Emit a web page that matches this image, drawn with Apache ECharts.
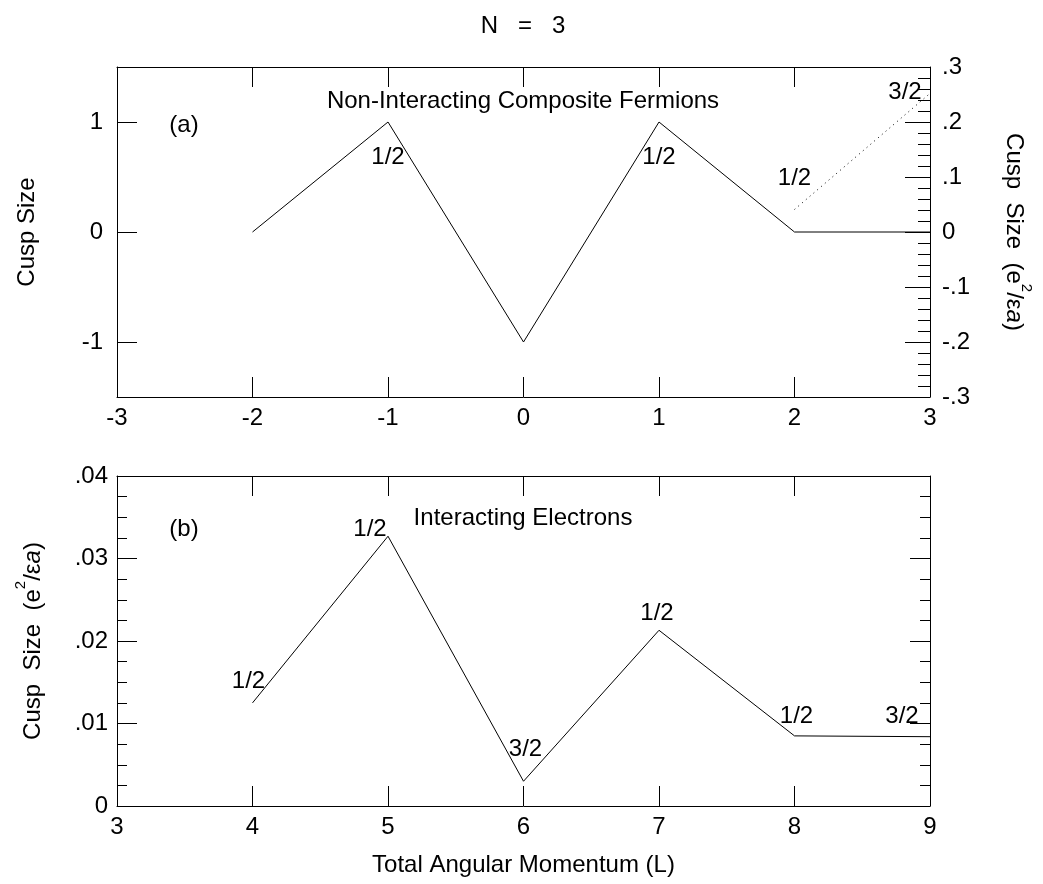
<!DOCTYPE html>
<html><head><meta charset="utf-8">
<script src="https://cdn.jsdelivr.net/npm/echarts@6/dist/echarts.min.js"></script>
<style>html,body{margin:0;padding:0;background:#fff}#c{width:1043px;height:884px}</style>
</head><body><div id="c"></div>
<script>
// ---- data ----
const topL = [-2, -1, 0, 1, 2, 3];
const topCusp = [0, 1, -1, 1, 0, 0];
const topSpin = ['', '1/2', '', '1/2', '', ''];
const topDotL = [2, 3];
const topDotEnergy = [0.041, 0.252];
const topDotSpin = ['1/2', '3/2'];
const botL = [4, 5, 6, 7, 8, 9];
const botCusp = [0.0125, 0.0327, 0.003, 0.0213, 0.0085, 0.0084];
const botSpin = ['1/2', '1/2', '3/2', '1/2', '1/2', '3/2'];
const topLeftTicks = [-1, 0, 1];

// ---- styles ----
const FF = '"Liberation Sans", Arial, Helvetica, sans-serif';
const FS = 24;
const BLACK = '#000';
const topSpinOffsets = [[0,0],[0,35],[0,0],[0,35],[0,0],[0,0]];
const topDotOffsets = [[0,-31],[-25,-1]];
const botSpinOffsets = [[-4,-22],[-18,-7],[2,-32],[-2,-17],[2,-20],[-28,-20]];

function fmt(v) {
  const r = Math.round(v * 10000) / 10000;
  if (r === 0) return '0';
  return String(r).replace(/^(-?)0\./, '$1.');
}
function labelData(xs, ys, texts, offs) {
  return xs.map((x, i) => ({
    value: [x, ys[i]],
    label: { show: texts[i] !== '', formatter: texts[i], offset: offs[i] }
  }));
}
const axLine = { show: true, onZero: false, lineStyle: { color: BLACK, width: 1 } };
const lab = (show, extra) => Object.assign({ show, color: BLACK, fontSize: FS, fontFamily: FF }, extra || {});

const richName = {
  n: { fontSize: FS, fontFamily: FF, color: BLACK, lineHeight: 32, verticalAlign: 'bottom' },
  s: { fontSize: 15, fontFamily: FF, color: BLACK, verticalAlign: 'top', lineHeight: 15 },
  i: { fontSize: FS, fontFamily: FF, color: BLACK, fontStyle: 'italic', lineHeight: 32, verticalAlign: 'bottom' }
};
const unitName = '{n|Cusp  Size  (e}{s|2}{n|/ε}{i|a}{n|)}';
const spinLabel = { position: 'inside', color: BLACK, fontSize: FS, fontFamily: FF, textBorderWidth: 0, opacity: 1 };

const chart = echarts.init(document.getElementById('c'), null, { renderer: 'canvas' });
chart.setOption({
  backgroundColor: '#fff',
  animation: false,
  graphic: [
    { type: 'text', x: 523, y: 26, style: { text: 'N   =   3', font: FS + 'px ' + FF, fill: BLACK, textAlign: 'center', textVerticalAlign: 'middle' } },
    { type: 'text', x: 184, y: 125, style: { text: '(a)', font: FS + 'px ' + FF, fill: BLACK, textAlign: 'center', textVerticalAlign: 'middle' } },
    { type: 'text', x: 523, y: 101, style: { text: 'Non-Interacting Composite Fermions', font: FS + 'px ' + FF, fill: BLACK, textAlign: 'center', textVerticalAlign: 'middle' } },
    { type: 'text', x: 184, y: 529, style: { text: '(b)', font: FS + 'px ' + FF, fill: BLACK, textAlign: 'center', textVerticalAlign: 'middle' } },
    { type: 'text', x: 523, y: 518, style: { text: 'Interacting Electrons', font: FS + 'px ' + FF, fill: BLACK, textAlign: 'center', textVerticalAlign: 'middle' } }
  ],
  grid: [
    { left: 117, right: 113, top: 67, height: 330 },
    { left: 117, right: 113, top: 476, height: 330 }
  ],
  xAxis: [
    { gridIndex: 0, type: 'value', min: -3, max: 3, interval: 1, position: 'bottom',
      axisLine: axLine, axisTick: { show: true, inside: true, length: 20, lineStyle: { color: BLACK } },
      axisLabel: lab(true, { margin: 9 }), splitLine: { show: false } },
    { gridIndex: 0, type: 'value', min: -3, max: 3, interval: 1, position: 'top',
      axisLine: axLine, axisTick: { show: true, inside: true, length: 20, lineStyle: { color: BLACK } },
      axisLabel: { show: false }, splitLine: { show: false } },
    { gridIndex: 1, type: 'value', min: 3, max: 9, interval: 1, position: 'bottom',
      axisLine: axLine, axisTick: { show: true, inside: true, length: 20, lineStyle: { color: BLACK } },
      axisLabel: lab(true, { margin: 9 }), splitLine: { show: false },
      name: 'Total Angular Momentum (L)', nameLocation: 'middle', nameGap: 47,
      nameTextStyle: { fontSize: FS, fontFamily: FF, color: BLACK } },
    { gridIndex: 1, type: 'value', min: 3, max: 9, interval: 1, position: 'top',
      axisLine: axLine, axisTick: { show: true, inside: true, length: 20, lineStyle: { color: BLACK } },
      axisLabel: { show: false }, splitLine: { show: false } }
  ],
  yAxis: [
    { gridIndex: 0, type: 'value', min: -1.5, max: 1.5, position: 'left',
      axisLine: axLine,
      axisTick: { show: true, inside: true, length: 20, lineStyle: { color: BLACK }, customValues: topLeftTicks },
      axisLabel: lab(true, { margin: 14, customValues: topLeftTicks, formatter: fmt }),
      splitLine: { show: false },
      name: 'Cusp Size', nameLocation: 'middle', nameGap: 78,
      nameTextStyle: { fontSize: FS, fontFamily: FF, color: BLACK } },
    { gridIndex: 0, type: 'value', min: -0.3, max: 0.3, interval: 0.1, position: 'right',
      axisLine: axLine,
      axisTick: { show: true, inside: true, length: 25, lineStyle: { color: BLACK } },
      minorTick: { show: true, splitNumber: 5, length: 12, lineStyle: { color: BLACK } },
      axisLabel: lab(true, { margin: 12, formatter: fmt }),
      splitLine: { show: false }, minorSplitLine: { show: false },
      name: unitName, nameLocation: 'middle', nameGap: 72, nameRotate: -90,
      nameTextStyle: { rich: richName } },
    { gridIndex: 1, type: 'value', min: 0, max: 0.04, interval: 0.01, position: 'left',
      axisLine: axLine,
      axisTick: { show: true, inside: true, length: 20, lineStyle: { color: BLACK } },
      minorTick: { show: true, splitNumber: 4, length: 10, lineStyle: { color: BLACK } },
      axisLabel: lab(true, { margin: 9, formatter: fmt }),
      splitLine: { show: false }, minorSplitLine: { show: false },
      name: unitName, nameLocation: 'middle', nameGap: 72,
      nameTextStyle: { rich: richName } },
    { gridIndex: 1, type: 'value', min: 0, max: 0.04, interval: 0.01, position: 'right',
      axisLine: axLine,
      axisTick: { show: true, inside: true, length: 20, lineStyle: { color: BLACK } },
      minorTick: { show: true, splitNumber: 4, length: 10, lineStyle: { color: BLACK } },
      axisLabel: { show: false },
      splitLine: { show: false }, minorSplitLine: { show: false } }
  ],
  series: [
    { type: 'line', xAxisIndex: 0, yAxisIndex: 0, symbol: 'none', silent: true,
      lineStyle: { color: BLACK, width: 1 },
      data: topL.map((x, i) => [x, topCusp[i]]) },
    { type: 'line', xAxisIndex: 0, yAxisIndex: 1, symbol: 'none', silent: true,
      lineStyle: { color: BLACK, width: 1, type: [1, 4] },
      data: topDotL.map((x, i) => [x, topDotEnergy[i]]) },
    { type: 'line', xAxisIndex: 2, yAxisIndex: 2, symbol: 'none', silent: true,
      lineStyle: { color: BLACK, width: 1 },
      data: botL.map((x, i) => [x, botCusp[i]]) },
    { type: 'scatter', xAxisIndex: 0, yAxisIndex: 0, symbolSize: 1, silent: true,
      itemStyle: { color: BLACK, opacity: 0 }, label: spinLabel,
      data: labelData(topL, topCusp, topSpin, topSpinOffsets) },
    { type: 'scatter', xAxisIndex: 0, yAxisIndex: 1, symbolSize: 1, silent: true,
      itemStyle: { color: BLACK, opacity: 0 }, label: spinLabel,
      data: labelData(topDotL, topDotEnergy, topDotSpin, topDotOffsets) },
    { type: 'scatter', xAxisIndex: 2, yAxisIndex: 2, symbolSize: 1, silent: true,
      itemStyle: { color: BLACK, opacity: 0 }, label: spinLabel,
      data: labelData(botL, botCusp, botSpin, botSpinOffsets) }
  ]
});
</script>
</body></html>
